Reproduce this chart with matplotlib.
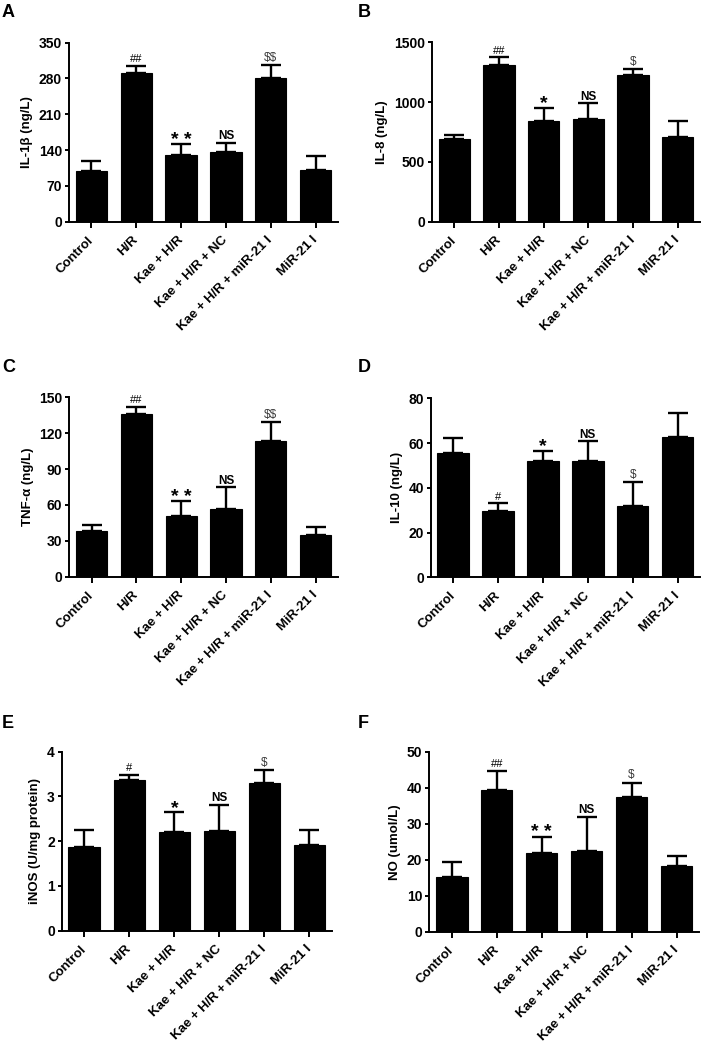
import matplotlib
matplotlib.use("Agg")
import matplotlib.pyplot as plt
import numpy as np

plt.rcParams["font.family"] = ["Liberation Sans", "DejaVu Sans"]
plt.rcParams["font.weight"] = "bold"

groups = ["Control", "H/R", "Kae + H/R", "Kae + H/R + NC", "Kae + H/R + miR-21 I", "MiR-21 I"]

# mean values and upper SD
il1b_mean = [99.5, 290, 129.5, 136.6, 280, 100.8]
il1b_err = [18.3, 14.5, 22.5, 17.4, 27, 28]
il8_mean = [691, 1313, 839, 856, 1226, 708]
il8_err = [37, 64, 114, 136, 47, 134]
tnfa_mean = [38.5, 136.3, 51, 56.9, 113.5, 35.1]
tnfa_err = [4.8, 5.9, 12.3, 17.8, 15.9, 6.7]
il10_mean = [55.6, 29.5, 51.9, 51.9, 31.9, 62.9]
il10_err = [6.7, 3.7, 4.7, 9.0, 10.6, 10.4]
inos_mean = [1.86, 3.37, 2.20, 2.23, 3.31, 1.92]
inos_err = [0.40, 0.12, 0.45, 0.59, 0.28, 0.32]
no_mean = [15.3, 39.3, 21.9, 22.3, 37.3, 18.3]
no_err = [4.1, 5.4, 4.5, 9.7, 4.1, 2.7]

marks_a = ["", "##", "* *", "NS", "$$", ""]
marks_b = ["", "##", "*", "NS", "$", ""]
marks_c = ["", "##", "* *", "NS", "$$", ""]
marks_d = ["", "#", "*", "NS", "$", ""]
marks_e = ["", "#", "*", "NS", "$", ""]
marks_f = ["", "##", "* *", "NS", "$", ""]

panels = [
    ("A", "IL-1\u03b2 (ng/L)", il1b_mean, il1b_err, marks_a, 350, 70, (69, 42.7, 338, 221.7)),
    ("B", "IL-8 (ng/L)", il8_mean, il8_err, marks_b, 1500, 500, (432, 42.3, 700, 221.7)),
    ("C", "TNF-\u03b1 (ng/L)", tnfa_mean, tnfa_err, marks_c, 150, 30, (69.3, 397.3, 338, 576.7)),
    ("D", "IL-10 (ng/L)", il10_mean, il10_err, marks_d, 80, 20, (430.7, 398.3, 700, 577.3)),
    ("E", "iNOS (U/mg protein)", inos_mean, inos_err, marks_e, 4, 1, (61.7, 751.7, 332, 930.7)),
    ("F", "NO (umol/L)", no_mean, no_err, marks_f, 50, 10, (429.3, 751.7, 699, 931.7)),
]
letter_pos = {"A": (2, 4), "B": (358, 4), "C": (2, 359), "D": (358, 359), "E": (2, 715), "F": (358, 715)}

W, H = 706, 1043
fig = plt.figure(figsize=(W / 100, H / 100), dpi=100)


def mark_style(txt):
    if "*" in txt:
        return dict(fontsize=14, fontweight="bold", color="black"), -0.5
    if "#" in txt:
        return dict(fontsize=8, fontweight="normal", color="black"), 2.5
    if "$" in txt:
        return dict(fontsize=8.5, fontweight="normal", color="#3c3c3c"), 3
    return dict(fontsize=8.5, fontweight="bold", color="black"), 2.5


for letter, ylabel, means, errs, marks, ymax, ystep, (l, t, r, b) in panels:
    ax = fig.add_axes([l / W, 1 - b / H, (r - l) / W, (b - t) / H])
    x = np.arange(len(groups))
    ax.bar(x, means, width=0.7, color="black", edgecolor="black", linewidth=0.8, zorder=2)
    ax.errorbar(x, means, yerr=[np.zeros(len(errs)), errs], fmt="none", ecolor="black",
                elinewidth=1.7, capsize=7.5, capthick=1.7, zorder=1)
    for xi, m, e, txt in zip(x, means, errs, marks):
        if not txt:
            continue
        style, dy = mark_style(txt)
        ax.annotate(txt, (xi, m + e), xytext=(0, dy), textcoords="offset points",
                    ha="center", va="baseline", parse_math=False, **style)

    ax.set_xlim(-0.5, 5.5)
    ax.set_ylim(0, ymax)
    ax.set_yticks(np.arange(0, ymax + ystep / 2, ystep))
    ax.set_xticks(x)
    ax.set_xticklabels(groups, rotation=45, ha="right", va="center", rotation_mode="anchor",
                       fontsize=9.5, fontweight="bold")
    for lab in ax.get_yticklabels():
        lab.set_fontsize(10)
        lab.set_fontweight("bold")
    ax.set_ylabel(ylabel, fontsize=9.5, fontweight="bold", labelpad=4)
    ax.spines["top"].set_visible(False)
    ax.spines["right"].set_visible(False)
    ax.spines["left"].set_linewidth(1.4)
    ax.spines["bottom"].set_linewidth(1.4)
    ax.tick_params(axis="y", length=3, width=1.4, pad=2)
    ax.tick_params(axis="x", length=4, width=1.4, pad=8)

    lx, ly = letter_pos[letter]
    fig.text(lx / W, 1 - ly / H, letter, fontsize=13, fontweight="bold", ha="left", va="top")

fig.savefig("out.png", dpi=100)
